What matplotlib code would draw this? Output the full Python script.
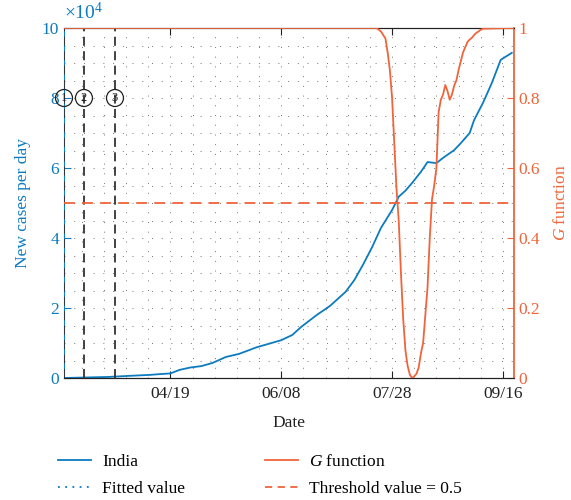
import numpy as np
import matplotlib
matplotlib.use("Agg")
import matplotlib.pyplot as plt
from matplotlib.lines import Line2D

plt.rcParams['font.family'] = ['Liberation Serif', 'DejaVu Serif']
plt.rcParams['mathtext.fontset'] = 'custom'
plt.rcParams['mathtext.rm'] = 'Liberation Serif'
plt.rcParams['mathtext.it'] = 'Liberation Serif:italic'

# ---- data ----
india_dates = ["2020-03-02", "2020-03-22", "2020-03-31", "2020-04-10", "2020-04-14",
               "2020-04-19", "2020-04-23", "2020-04-28", "2020-05-03", "2020-05-08",
               "2020-05-14", "2020-05-20", "2020-05-28", "2020-06-02", "2020-06-08",
               "2020-06-13", "2020-06-17", "2020-06-24", "2020-06-30", "2020-07-07",
               "2020-07-11", "2020-07-15", "2020-07-19", "2020-07-23", "2020-07-28",
               "2020-07-31", "2020-08-03", "2020-08-06", "2020-08-10", "2020-08-13",
               "2020-08-17", "2020-08-20", "2020-08-25", "2020-08-28", "2020-09-01",
               "2020-09-03", "2020-09-07", "2020-09-11", "2020-09-15", "2020-09-17",
               "2020-09-20"]
india_cases = [0.0, 0.03, 0.06, 0.09, 0.11,
               0.13, 0.23, 0.30, 0.34, 0.43,
               0.60, 0.69, 0.88, 0.97, 1.08,
               1.23, 1.46, 1.80, 2.06, 2.46,
               2.80, 3.25, 3.74, 4.29, 4.80,
               5.18, 5.35, 5.57, 5.89, 6.17,
               6.14, 6.29, 6.51, 6.71, 7.00,
               7.37, 7.86, 8.43, 9.09, 9.17,
               9.29]  # x 10^4

g_dates = ["2020-03-02", "2020-07-21", "2020-07-22", "2020-07-23", "2020-07-24",
           "2020-07-25", "2020-07-26", "2020-07-27", "2020-07-28", "2020-07-29",
           "2020-07-30", "2020-07-31", "2020-08-01", "2020-08-02", "2020-08-03",
           "2020-08-04", "2020-08-05", "2020-08-06", "2020-08-07", "2020-08-08",
           "2020-08-09", "2020-08-10", "2020-08-11", "2020-08-12", "2020-08-13",
           "2020-08-14", "2020-08-15", "2020-08-16", "2020-08-17", "2020-08-18",
           "2020-08-19", "2020-08-20", "2020-08-21", "2020-08-22", "2020-08-23",
           "2020-08-24", "2020-08-25", "2020-08-26", "2020-08-27", "2020-08-28",
           "2020-08-29", "2020-08-30", "2020-08-31", "2020-09-01", "2020-09-02",
           "2020-09-03", "2020-09-04", "2020-09-05", "2020-09-06", "2020-09-07",
           "2020-09-21"]
g_values = [1.0, 1.0, 0.995, 0.99, 0.98,
            0.97, 0.93, 0.88, 0.80, 0.67,
            0.54, 0.45, 0.30, 0.17, 0.08,
            0.035, 0.01, 0.0, 0.005, 0.012,
            0.03, 0.07, 0.10, 0.18, 0.26,
            0.40, 0.51, 0.55, 0.60, 0.76,
            0.795, 0.81, 0.837, 0.82, 0.795,
            0.81, 0.835, 0.85, 0.88, 0.905,
            0.93, 0.945, 0.96, 0.967, 0.972,
            0.98, 0.986, 0.99, 0.995, 0.998,
            1.0]

threshold = 0.5
event_dates = ["2020-03-02", "2020-03-11", "2020-03-25"]
event_labels = ["1", "2", "3"]
xtick_dates = ["2020-04-19", "2020-06-08", "2020-07-28", "2020-09-16"]
xtick_labels = ["04/19", "06/08", "07/28", "09/16"]
left_ticks = [0, 2, 4, 6, 8, 10]
right_ticks = [0, 0.2, 0.4, 0.6, 0.8, 1]
right_ticklabels = ["0", "0.2", "0.4", "0.6", "0.8", "1"]

BLUE = '#0C7BC0'
ORANGE = '#F0643A'
FS = 12.5

to_dt = lambda lst: np.array(lst, dtype='datetime64[D]')

fig = plt.figure(figsize=(5.71, 5.0), dpi=100)
ax = fig.add_axes([64/571, 1-378/500, (514-64)/571, 350/500])
ax2 = ax.twinx()

ax.set_xlim(np.datetime64("2020-03-02"), np.datetime64("2020-09-21"))
ax.set_ylim(0, 10)
ax2.set_ylim(0, 1)

# grid (dotted, minor)
xminor = np.arange(np.datetime64("2020-03-10"), np.datetime64("2020-09-21"), 10)
ax.set_xticks(to_dt(xtick_dates))
ax.set_xticklabels(xtick_labels)
ax.set_xticks(xminor, minor=True)
ax.set_yticks(left_ticks)
ax.set_yticks(np.arange(0, 10.01, 0.5), minor=True)
ax.grid(True, which='both', axis='both', linestyle=(0, (1, 9)), color='#777777', linewidth=0.7)

ax.plot(to_dt(india_dates), india_cases, color=BLUE, lw=1.3, zorder=3)

for d, lab in zip(event_dates, event_labels):
    ax.axvline(np.datetime64(d), color='#333333', lw=1.3, ls=(0, (5, 3)), zorder=4)
    ax.text(np.datetime64(d), 8, lab, ha='center', va='center', fontsize=9, color='#222222',
            bbox=dict(boxstyle='circle,pad=0.2', fc='none', ec='#222222', lw=0.9), zorder=5)

ax2.plot(to_dt(g_dates), g_values, color=ORANGE, lw=1.3, zorder=3)
ax2.axhline(threshold, color=ORANGE, lw=1.3, ls=(0, (6, 4)))
ax2.set_yticks(right_ticks)
ax2.set_yticklabels(right_ticklabels)

for a in (ax, ax2):
    a.tick_params(direction='in', length=5, labelsize=FS, which='major', top=False)
    a.tick_params(direction='in', length=0, which='minor')
ax.tick_params(axis='y', colors=BLUE, which='both')
ax.tick_params(axis='x', colors='#222222', top=True, pad=6)
ax2.tick_params(axis='y', colors=ORANGE, which='both')

ax.spines['left'].set_color(BLUE)
ax2.spines['left'].set_visible(False)
ax2.spines['right'].set_color(ORANGE)
ax2.spines['right'].set_linewidth(1.3)
ax.spines['right'].set_visible(False)
for s in ('top', 'bottom'):
    ax.spines[s].set_color('#222222')
    ax2.spines[s].set_color('#222222')

ax.set_xlabel("Date", fontsize=FS, color='#222222', labelpad=9)
ax.set_ylabel("New cases per day", fontsize=FS, color=BLUE, labelpad=8)
ax2.set_ylabel("$G$ function", fontsize=FS, color=ORANGE, labelpad=9)
ax.text(0.0, 1.015, r"$\times10^4$", transform=ax.transAxes, color=BLUE, fontsize=14,
        ha='left', va='bottom')

handles = [Line2D([], [], color=BLUE, lw=1.3),
           Line2D([], [], color=BLUE, lw=1.3, ls=(0, (1, 3))),
           Line2D([], [], color=ORANGE, lw=1.3),
           Line2D([], [], color=ORANGE, lw=1.3, ls=(0, (4, 3)))]
labels = ["India", "Fitted value", "$G$ function", "Threshold value = 0.5"]
fig.legend(handles, labels, ncol=2, frameon=False, fontsize=FS,
           loc='upper left', bbox_to_anchor=(51/571, 1-447/500), handlelength=1.9,
           handletextpad=0.65, columnspacing=4.6, labelspacing=0.6, borderaxespad=0)

fig.savefig("out.png", dpi=100)
